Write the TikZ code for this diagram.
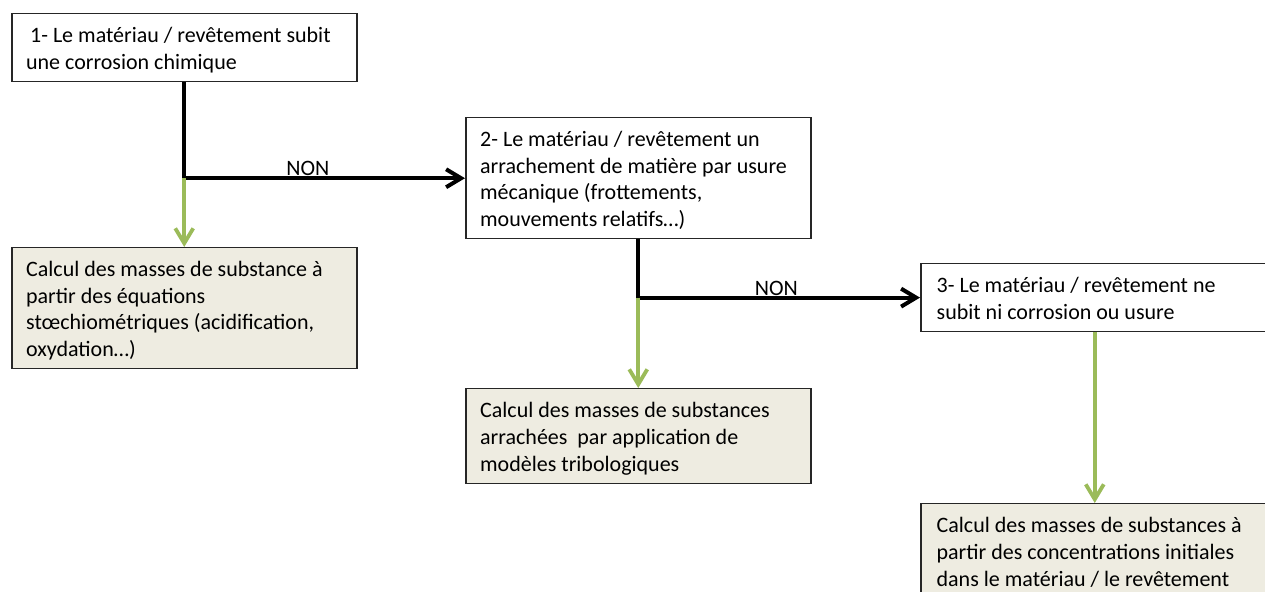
\documentclass[tikz,border=0pt]{standalone}
\usepackage{fontspec}
\setmainfont{Carlito}
\usepackage{xcolor}
\usepackage{tikz}
\usetikzlibrary{arrows.meta}
\definecolor{olivegrn}{HTML}{9BBB59}
\definecolor{tanfill}{HTML}{EEECE1}
\tikzset{ques/.style={draw=black!85,line width=0.75pt,fill=white,anchor=north west,align=flush left,text width=158.1pt,inner xsep=7.2pt,inner ysep=3.6pt,minimum width=172.5pt,execute at begin node={\spaceskip=0pt\xspaceskip=0pt}},
  calc/.style={ques,fill=tanfill},
  blk/.style={line width=2pt,-{Straight Barb[length=7.5pt,width=9pt]}},
  grn/.style={line width=1.9pt,olivegrn,-{Straight Barb[length=7.5pt,width=9pt]}},
  nonlbl/.style={anchor=base,yshift=1.2pt,inner sep=0pt}}
\newcommand{\topstr}{\rule{0pt}{10.8pt}}
\newcommand{\botstr}{\rule[-2.6pt]{0pt}{0pt}}

\begin{document}
\begin{tikzpicture}[x=0.5pt,y=-0.5pt,font=\fontsize{11}{13.3}\selectfont]
\useasboundingbox[fill=white] (0,0) rectangle (1265,592);
\node[ques,minimum height=33.5pt] (q1) at (11,13) {\topstr\hspace{2pt}1- Le matériau / revêtement subit\\une corrosion chimique\botstr};
\node[calc,minimum height=60.5pt] (r1) at (11,247) {\topstr Calcul des masses de substance à\\partir des équations\\stœchiométriques (acidification,\\oxydation…)\botstr};
\node[ques,minimum height=60pt] (q2) at (465,117) {\topstr 2- Le matériau / revêtement un\\arrachement de matière par usure\\mécanique (frottements,\\mouvements relatifs…)\botstr};
\node[calc,minimum height=47.5pt] (r2) at (465,388) {\topstr Calcul des masses de substances\\arrachées\ \ par application de\\modèles tribologiques\botstr};
\node[ques,minimum height=33.5pt,minimum width=174pt] (q3) at (920,263) {\topstr 3- Le matériau / revêtement ne\\subit ni corrosion ou usure\botstr};
\node[calc,minimum height=47.5pt,minimum width=174pt] (r3) at (920,503) {\topstr Calcul des masses de substances à\\partir des concentrations initiales\\dans le matériau / le revêtement\botstr};
% branches NON
\draw[blk] (q1.south) |- node[nonlbl,pos=0.72] (n1) {NON} (q2.west);
\draw[blk] (q2.south) |- node[nonlbl,pos=0.745] (n2) {NON} (q3.west);
% calculs
\coordinate (c1) at (q1.south |- q2.west); \coordinate (c2) at (q2.south |- q3.west);
\draw[grn] (c1) -- (r1.north); \draw[grn] (c2) -- (r2.north); \draw[grn] (q3.south) -- (r3.north);
\end{tikzpicture}
\end{document}
